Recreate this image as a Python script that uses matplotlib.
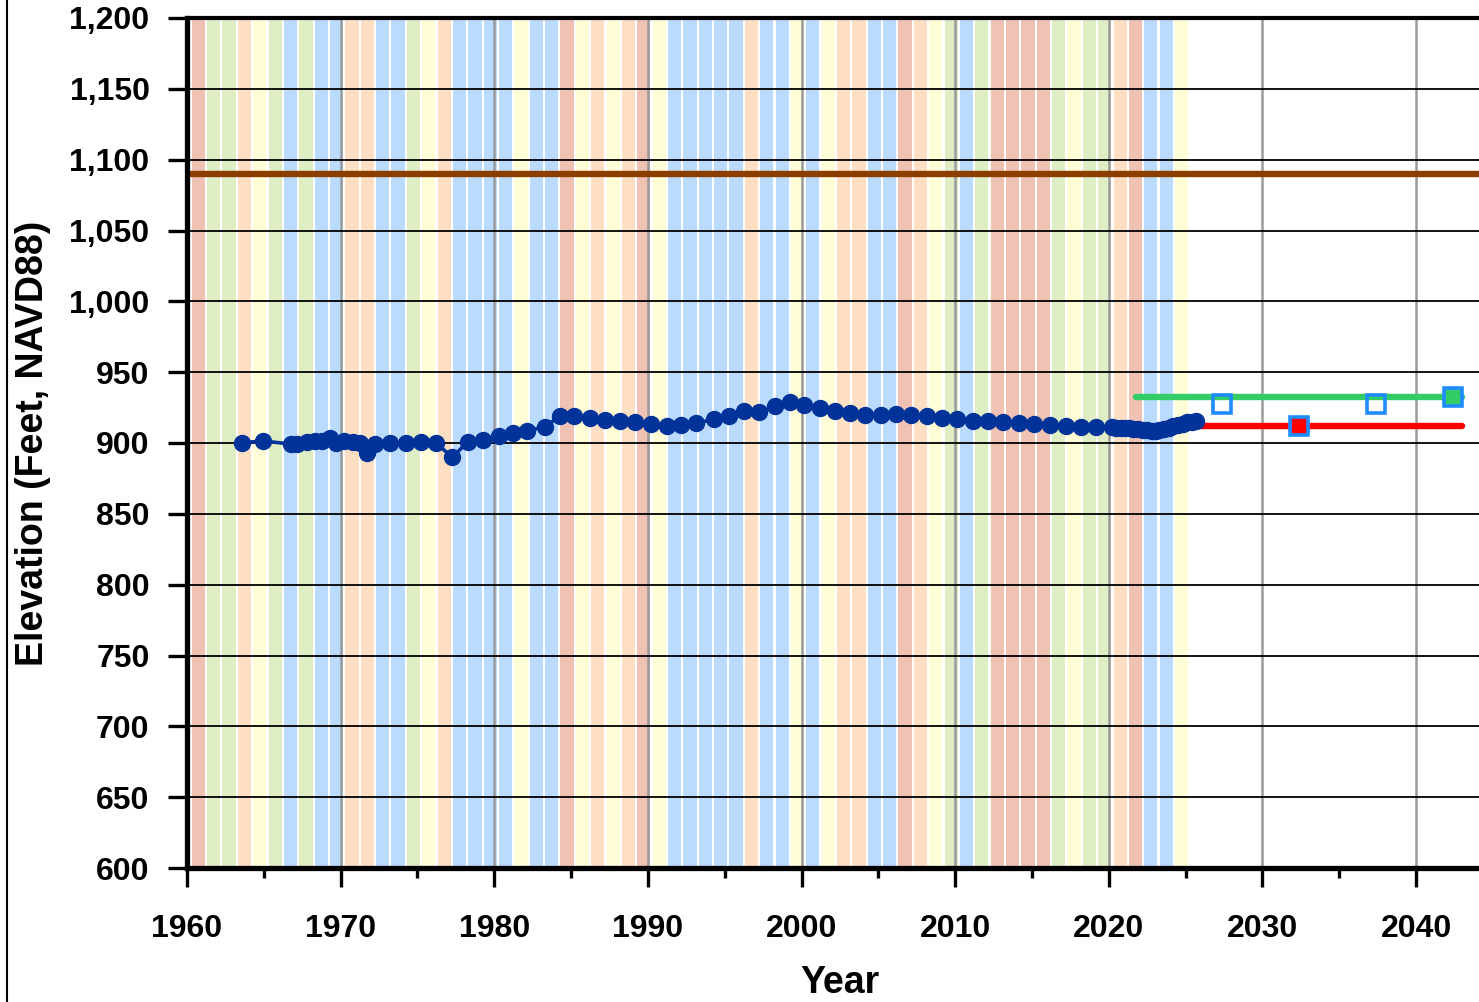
import matplotlib
matplotlib.use("Agg")
import matplotlib.pyplot as plt
from matplotlib.ticker import MultipleLocator, FuncFormatter
from matplotlib.lines import Line2D

plt.rcParams['font.family'] = ['Liberation Sans', 'DejaVu Sans']
plt.rcParams['font.weight'] = 'bold'

# Water-year classification bands (one per year, starting 1960)
band_start_year = 1960
band_types = list(
    "RGGOYGBGBBOOBBGYOBBBBYBBRYOYORYBBBBBOBBYBYOOBBROYGBGRRRRGYGGORBBY"
)
band_colors = {
    "R": "#EFC2B4",  # critical
    "O": "#FFDFC4",  # dry
    "Y": "#FFFDD5",  # below normal
    "G": "#DFEDC5",  # above normal
    "B": "#BBDBFE",  # wet
}

# Measured groundwater elevations (decimal year, feet NAVD88)
obs_years = [
    1963.56, 1964.96, 1966.74, 1967.13, 1967.78, 1968.32, 1968.82, 1969.30,
    1969.73, 1970.23, 1970.81, 1971.25, 1971.72, 1972.22, 1973.24, 1974.28,
    1975.26, 1976.19, 1977.27, 1978.29, 1979.27, 1980.31, 1981.22, 1982.15,
    1983.28, 1984.30, 1985.16, 1986.20, 1987.24, 1988.20, 1989.19, 1990.21,
    1991.23, 1992.16, 1993.14, 1994.33, 1995.26, 1996.28, 1997.26, 1998.28,
    1999.25, 2000.18, 2001.20, 2002.20, 2003.17, 2004.12, 2005.17, 2006.14,
    2007.12, 2008.20, 2009.17, 2010.15, 2011.17, 2012.14, 2013.12, 2014.16,
    2015.14, 2016.16, 2017.20, 2018.17, 2019.15,
    2020.20, 2020.50, 2020.80, 2021.05, 2021.30, 2021.60, 2021.90, 2022.20,
    2022.50, 2022.80, 2023.05, 2023.30, 2023.60, 2023.90, 2024.20, 2024.50,
    2024.80, 2025.10, 2025.40, 2025.70,
]
obs_elev = [
    900.2, 901.4, 899.3, 899.3, 900.9, 901.4, 901.6, 903.8,
    899.8, 901.2, 900.7, 900.2, 892.7, 899.3, 900.2, 900.2,
    900.7, 900.2, 889.9, 901.0, 902.1, 905.0, 906.9, 908.6,
    911.5, 919.0, 919.0, 917.4, 916.2, 915.5, 914.6, 913.2,
    912.2, 912.5, 913.9, 916.9, 919.3, 922.6, 921.7, 926.1,
    929.2, 926.8, 924.9, 922.8, 920.9, 919.5, 919.8, 920.5,
    919.8, 919.1, 917.9, 916.7, 915.8, 915.8, 915.0, 914.3,
    913.4, 912.7, 912.0, 911.5, 911.1,
    911.0, 910.8, 910.6, 910.5, 910.3, 910.0, 909.7, 909.3,
    909.0, 908.7, 908.8, 909.2, 909.9, 910.8, 911.8, 912.8,
    913.7, 914.5, 915.1, 915.5,
]

# Reference level
ground_surface = 1090.0

# Sustainability criteria lines
mo_years = [2021.8, 2043.0]
mo_elev = [932.5, 932.5]
mt_years = [2025.0, 2043.0]
mt_elev = [912.0, 912.0]

# Interim milestones
milestone_years = [2027.4, 2032.4, 2037.4, 2042.4]
milestone_elev = [927.5, 912.0, 927.5, 932.5]
milestone_fill = ["none", "#FF0000", "none", "#33CC66"]

fig = plt.figure(figsize=(14.79, 10.02), dpi=100)
ax = fig.add_axes([187 / 1479, 1 - 868 / 1002, 1 - 187 / 1479, (868 - 18) / 1002])

# Year-type bands
band_x = [band_start_year + i + 0.74 for i in range(len(band_types))]
ax.bar(band_x, [600] * len(band_types), bottom=600, width=0.86,
       color=[band_colors[t] for t in band_types], linewidth=0, zorder=0)

# Ground surface line
ax.axhline(ground_surface, color="#8B3E00", linewidth=4.6, zorder=3)

# Criteria lines
ax.plot(mo_years, mo_elev, color="#33CC66", linewidth=4.6,
        solid_capstyle="round", zorder=3)
ax.plot(mt_years, mt_elev, color="#FF0000", linewidth=4.6,
        solid_capstyle="round", zorder=3)

# Observed series
ax.plot(obs_years, obs_elev, color="#003399", linewidth=2.6, marker="o",
        markersize=11.5, markerfacecolor="#003399", markeredgecolor="#003399",
        zorder=5)

# Milestone markers
for mx, my, fc in zip(milestone_years, milestone_elev, milestone_fill):
    ax.plot([mx], [my], marker="s", markersize=13, markerfacecolor=fc,
            markeredgecolor="#1E8CFF", markeredgewidth=2.6,
            linestyle="none", zorder=6)

ax.set_xlim(1960, 2044.1)
ax.set_ylim(600, 1200)

ax.xaxis.set_major_locator(MultipleLocator(10))
ax.xaxis.set_minor_locator(MultipleLocator(5))
ax.yaxis.set_major_locator(MultipleLocator(50))
ax.yaxis.set_major_formatter(FuncFormatter(lambda v, p: f"{int(v):,}"))

ax.set_axisbelow(True)
ax.yaxis.grid(True, color="black", linewidth=1.3)
ax.xaxis.grid(True, color="#9A9A9A", linewidth=1.8)

for side in ("left", "bottom"):
    ax.spines[side].set_linewidth(3.8)
ax.spines["top"].set_linewidth(3.0)
ax.spines["right"].set_visible(False)
for s in ax.spines.values():
    s.set_zorder(7)

ax.tick_params(axis="y", which="major", direction="out", length=14,
               width=2.4, labelsize=23, pad=13)
ax.tick_params(axis="x", which="major", direction="out", length=14,
               width=2.4, labelsize=23, pad=19)
ax.tick_params(axis="x", which="minor", direction="out", length=7,
               width=2.4)
for lbl in ax.get_xticklabels() + ax.get_yticklabels():
    lbl.set_fontweight("bold")

ax.set_xlabel("Year", fontsize=27, fontweight="bold", labelpad=15)
ax.xaxis.label.set_x(0.505)
ax.set_ylabel("Elevation (Feet, NAVD88)", fontsize=27, fontweight="bold",
              labelpad=13)

# Left frame edge
fig.add_artist(Line2D([6.5 / 1479, 6.5 / 1479], [0, 1], transform=fig.transFigure,
                      color="black", linewidth=1.5))

fig.savefig("out.png", dpi=100)
